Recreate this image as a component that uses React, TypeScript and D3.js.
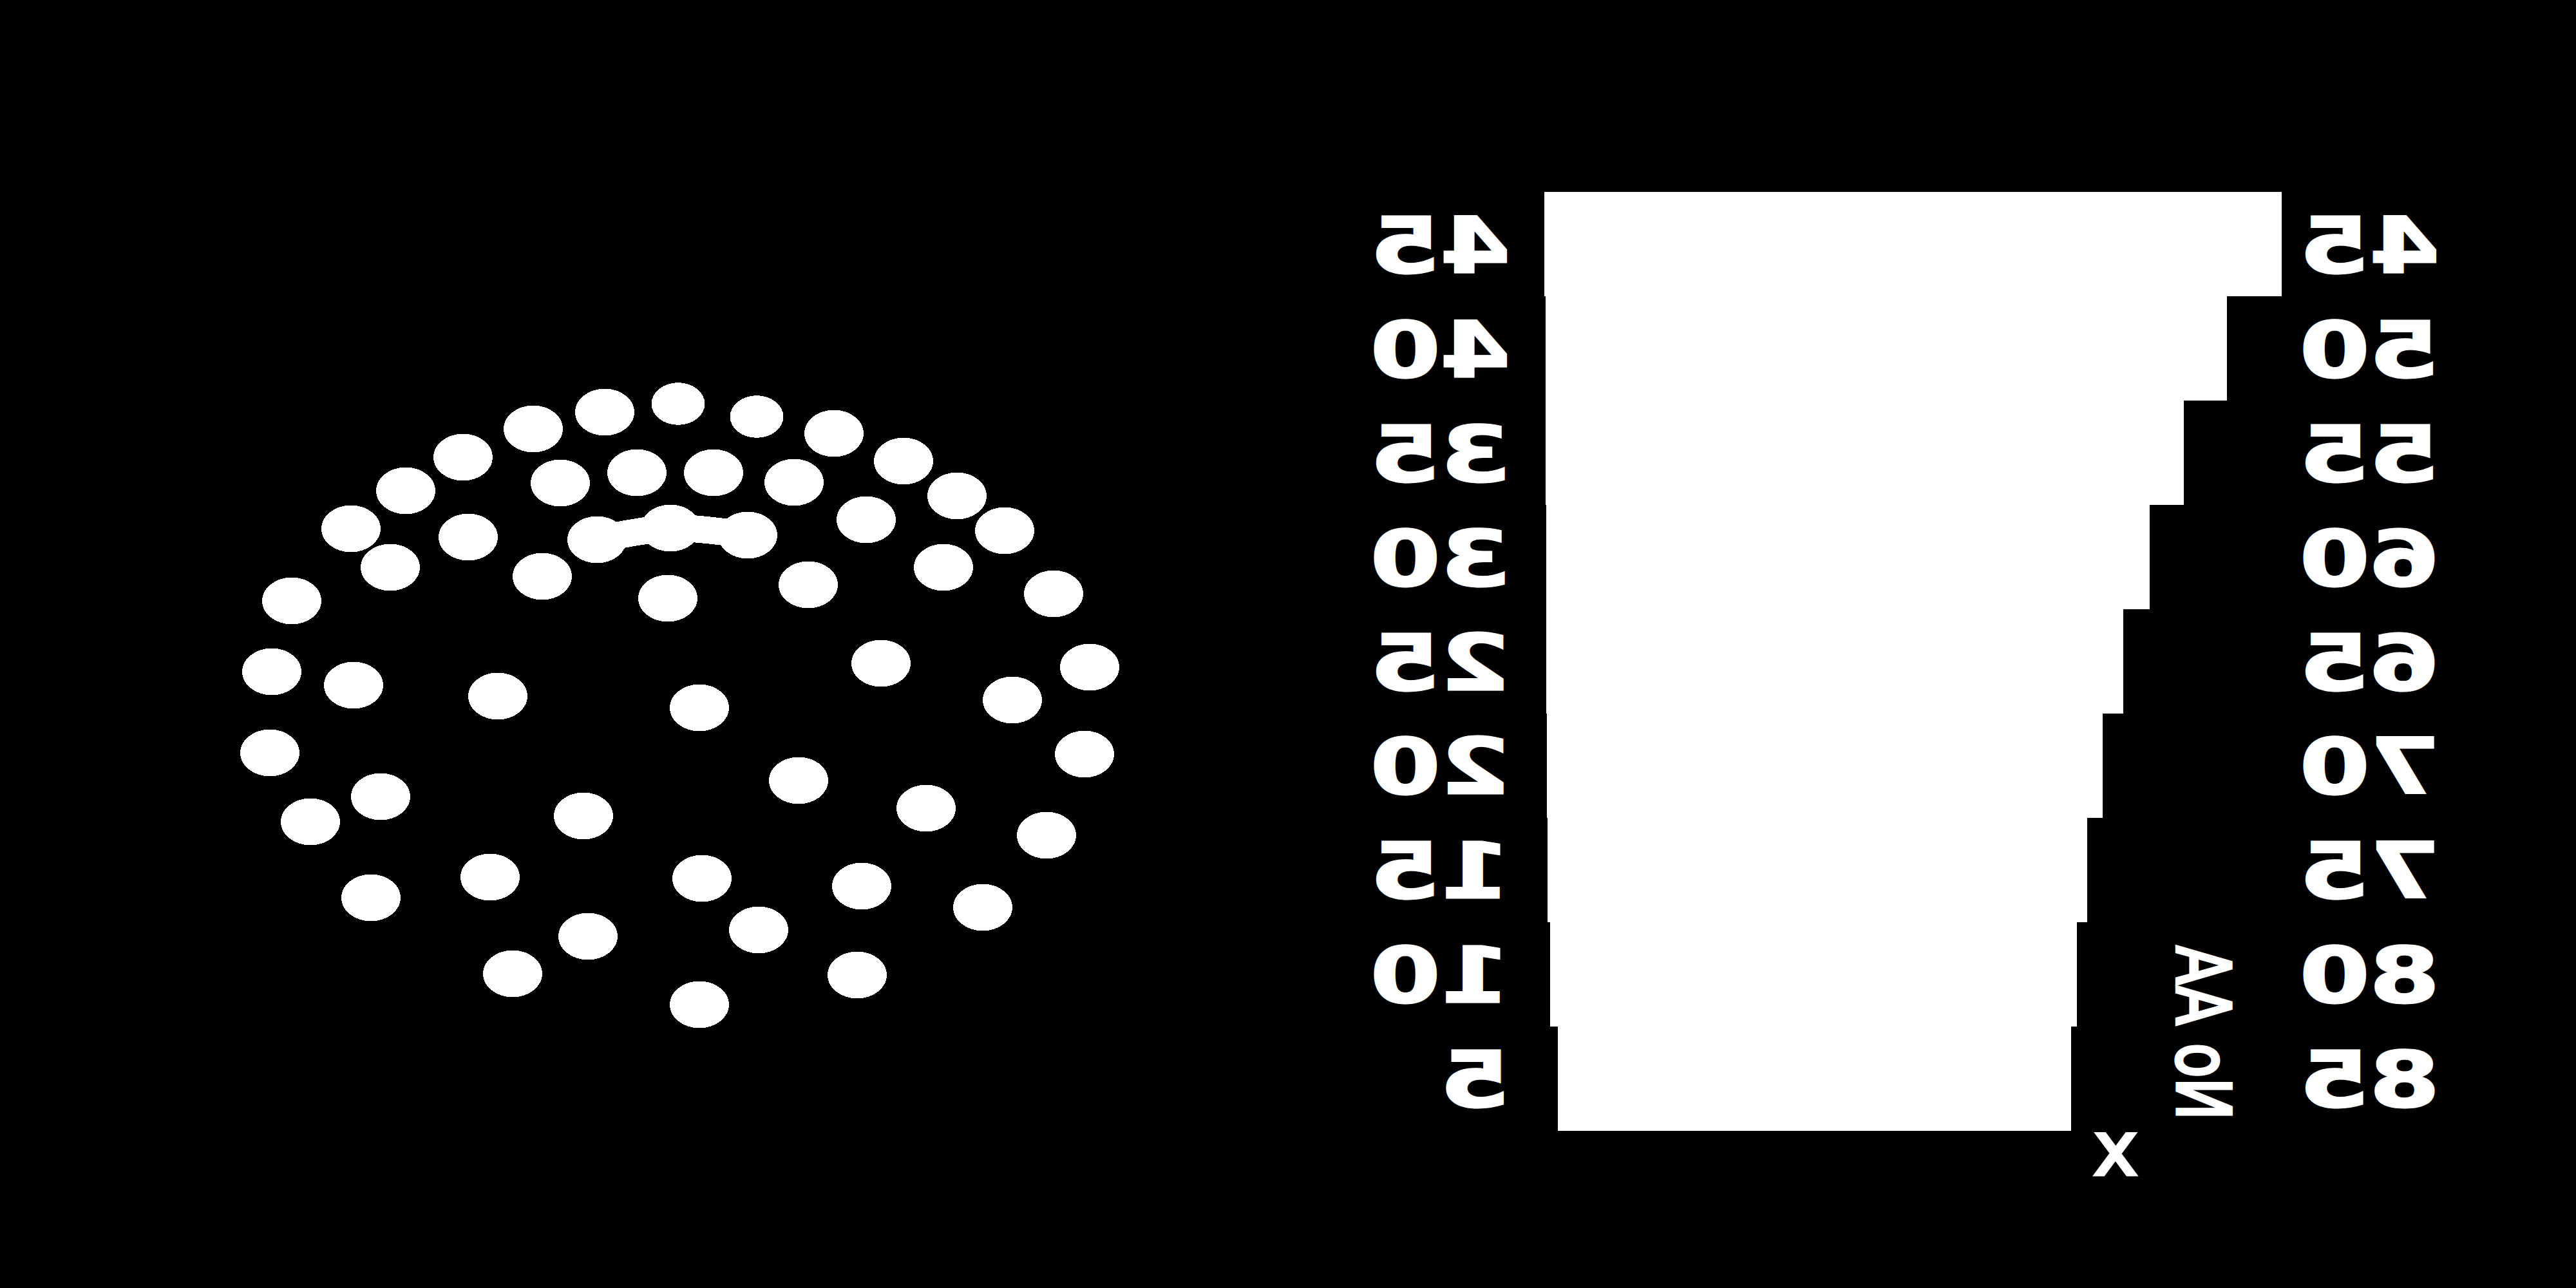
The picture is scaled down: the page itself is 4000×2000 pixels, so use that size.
import React from "react";
import * as d3 from "d3";

// scatter points (arbitrary units)
const dotX = [65.3, 53.9, 42.8, 77.5, 89.5, 31.9, 100.3, 23.0, 108.6, 14.5, 116.0, 47.0, 58.9, 70.8, 83.3, 32.7, 94.5, 52.7, 64.1, 76.1, 20.6, 44.2, 63.7, 85.5, 106.5, 123.6, 5.3, 2.2, 14.9, 37.3, 68.6, 96.8, 129.2, 117.2, 1.9, 128.4, 84.0, 19.1, 8.2, 50.6, 103.8, 122.5, 17.6, 36.1, 69.0, 93.8, 112.6, 51.3, 77.8, 39.6, 93.1, 68.6];
const dotY = [2.7, 4.0, 6.6, 4.7, 7.3, 11.0, 11.6, 16.2, 17.0, 22.1, 22.4, 15.0, 13.4, 13.4, 14.9, 23.4, 20.7, 23.8, 22.0, 23.1, 28.1, 29.5, 32.9, 30.8, 28.1, 32.2, 33.3, 44.3, 46.4, 48.1, 49.9, 43.0, 43.6, 48.7, 56.9, 57.1, 61.2, 63.7, 67.6, 66.7, 65.5, 69.7, 79.4, 76.2, 76.4, 77.6, 80.9, 85.4, 84.4, 91.2, 91.4, 96.0];
const dotSize = dotX.map((_, i) => (i === 0 || i === 3 ? 0.9 : 1));
// the three points that run together in the middle
const joined = [17, 18, 19];

// stepped bars
const rows = [0, 1, 2, 3, 4, 5, 6, 7, 8];
const leftLabels = ["45", "40", "35", "30", "25", "20", "15", "10", "5"];
const rightLabels = ["45", "50", "55", "60", "65", "70", "75", "80", "85"];
const barStart = [0, 0.17, 0.17, 0.26, 0.26, 0.35, 0.44, 0.79, 1.83];
const barEnd = [100, 92.6, 86.7, 82.1, 78.5, 75.7, 73.6, 72.2, 71.4];

const W = 4000;
const H = 2000;
const STRETCH = 1.3;

export default function App() {
  const sx = d3.scaleLinear().domain([0, 130]).range([400, 1700]);
  const sy = d3.scaleLinear().domain([0, 100]).range([600, 1600]);
  const r = d3.scaleLinear().domain([0, 1]).range([0, 36.5]);

  const bx = d3.scaleLinear().domain([0, 100]).range([2398, 3543]);
  const by = d3
    .scaleBand<number>()
    .domain(rows)
    .range([298, 1755])
    .paddingInner(0);

  const bridge = d3
    .line<number>()
    .x((i) => sx(dotX[i]))
    .y((i) => sy(dotY[i]))
    .curve(d3.curveCatmullRom)(joined);

  const labelFont = {
    fontFamily: "DejaVu Sans",
    fontWeight: "bold" as const,
    fontSize: 120,
  };

  return (
    <svg
      width={W}
      height={H}
      style={{ position: "absolute", left: 0, top: 0 }}
      shapeRendering="crispEdges"
    >
      <rect x={0} y={0} width={W} height={H} fill="#000" />

      <g fill="#fff">
        {dotX.map((d, i) => (
          <ellipse
            key={i}
            cx={sx(d)}
            cy={sy(dotY[i])}
            rx={r(dotSize[i]) * 1.26}
            ry={r(dotSize[i])}
          />
        ))}
        <path d={bridge || ""} fill="none" stroke="#fff" strokeWidth={42} />
      </g>

      <g fill="#fff">
        {rows.map((d) => (
          <rect
            key={d}
            x={bx(barStart[d])}
            y={by(d)}
            width={bx(barEnd[d]) - bx(barStart[d])}
            height={by.bandwidth() + 0.5}
          />
        ))}
      </g>

      <g fill="#fff" stroke="#fff" strokeWidth={3} style={labelFont}>
        {rows.map((d) => (
          <text
            key={"l" + d}
            transform={`translate(2345,${by(d)! + by.bandwidth() / 2 + 44}) scale(${-STRETCH},1)`}
            textAnchor="start"
          >
            {leftLabels[d]}
          </text>
        ))}
        {rows.map((d) => (
          <text
            key={"r" + d}
            transform={`translate(3788,${by(d)! + by.bandwidth() / 2 + 44}) scale(${-STRETCH},1)`}
            textAnchor="start"
          >
            {rightLabels[d]}
          </text>
        ))}
      </g>

      <text
        transform={`translate(3381,1604) scale(${-STRETCH},1) rotate(-90)`}
        textAnchor="middle"
        fill="#fff"
        stroke="#fff"
        strokeWidth={4}
        style={{ fontFamily: "DejaVu Sans", fontSize: 88 }}
      >
        No AA
      </text>
      <text
        x={3285}
        y={1824}
        textAnchor="middle"
        fill="#fff"
        stroke="#fff"
        strokeWidth={5}
        style={{ fontFamily: "DejaVu Sans", fontSize: 116 }}
      >
        x
      </text>
    </svg>
  );
}
